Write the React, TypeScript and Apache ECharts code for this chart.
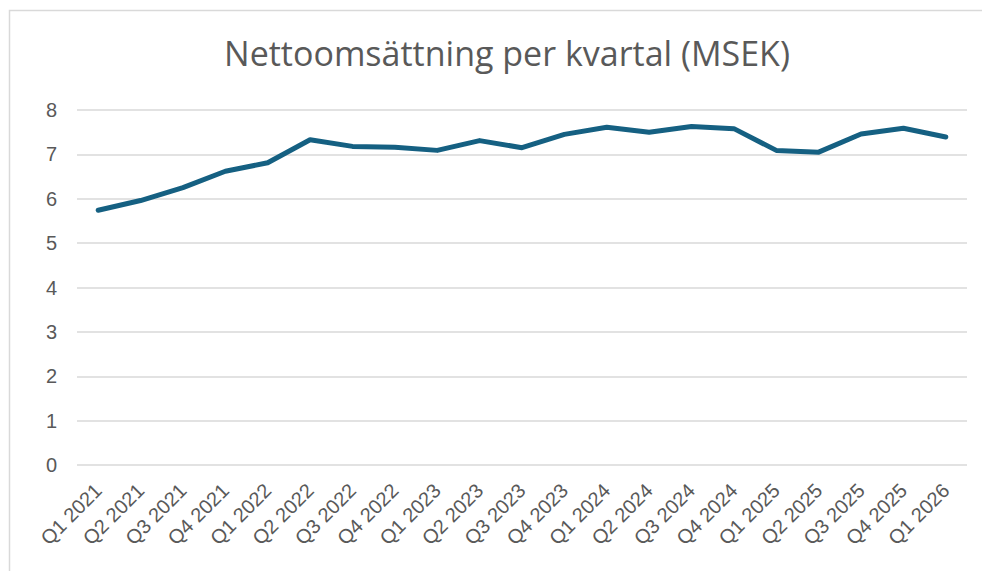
import React, { useEffect, useRef } from "react";
import * as echarts from "echarts";

const categories = [
  "Q1 2021", "Q2 2021", "Q3 2021", "Q4 2021",
  "Q1 2022", "Q2 2022", "Q3 2022", "Q4 2022",
  "Q1 2023", "Q2 2023", "Q3 2023", "Q4 2023",
  "Q1 2024", "Q2 2024", "Q3 2024", "Q4 2024",
  "Q1 2025", "Q2 2025", "Q3 2025", "Q4 2025",
  "Q1 2026",
];

const revenue = [
  5.74, 5.96, 6.25, 6.62,
  6.81, 7.33, 7.18, 7.16,
  7.09, 7.31, 7.15, 7.45,
  7.61, 7.50, 7.63, 7.58,
  7.09, 7.05, 7.46, 7.59,
  7.39,
];

const titleText = "Nettoomsättning per kvartal (MSEK)";

export default function App() {
  const ref = useRef<HTMLDivElement>(null);

  useEffect(() => {
    if (!ref.current) return;
    const chart = echarts.init(ref.current, null, { renderer: "svg" });
    const font = "'Liberation Sans', Arial, sans-serif";
    chart.setOption({
      animation: false,
      backgroundColor: "#ffffff",
      title: {
        text: titleText,
        left: 502,
        top: 31,
        textAlign: "center",
        textStyle: {
          fontFamily: "'Open Sans', sans-serif",
          fontSize: 34,
          fontWeight: "normal",
          color: "#595959",
        },
      },
      graphic: [
        {
          type: "rect",
          shape: { x: 9.5, y: 10.5, width: 1000, height: 600 },
          style: { fill: "none", stroke: "#d9d9d9", lineWidth: 1.5 },
          silent: true,
        },
      ],
      grid: { left: 77, right: 15, top: 110, bottom: 106, containLabel: false },
      xAxis: {
        type: "category",
        data: categories,
        boundaryGap: true,
        axisLine: { show: false },
        axisTick: { show: false },
        axisLabel: {
          rotate: 45,
          interval: 0,
          margin: 22,
          color: "#595959",
          fontFamily: font,
          fontSize: 20,
        },
      },
      yAxis: {
        type: "value",
        min: 0,
        max: 8,
        interval: 1,
        axisLine: { show: false },
        axisTick: { show: false },
        axisLabel: {
          margin: 20,
          color: "#595959",
          fontFamily: font,
          fontSize: 20,
        },
        splitLine: { lineStyle: { color: "#d9d9d9", width: 1.5 } },
      },
      series: [
        {
          type: "line",
          data: revenue,
          symbol: "none",
          lineStyle: { color: "#156082", width: 5, cap: "round", join: "round" },
        },
      ],
    });
    return () => chart.dispose();
  }, []);

  return (
    <div
      ref={ref}
      style={{ position: "fixed", left: 0, top: 0, width: 982, height: 571 }}
    />
  );
}
